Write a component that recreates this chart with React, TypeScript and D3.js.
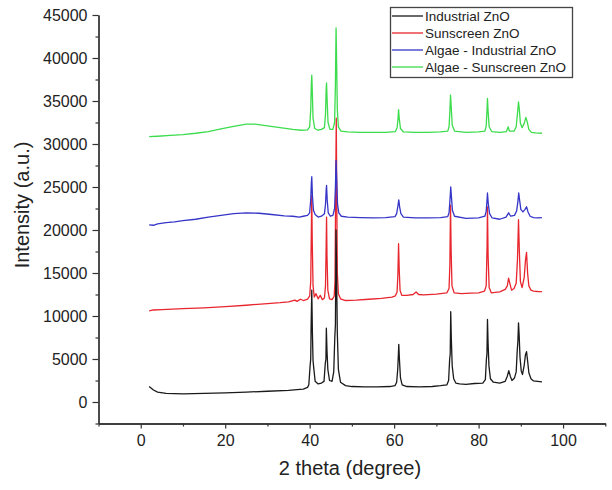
import { useEffect, useRef } from 'react';
import * as d3 from 'd3';

// [2 theta, intensity]
const industrial: [number, number][] = [
  [2, 1800], [3, 1400], [4, 1150], [6, 1000], [10, 950], [15, 1000], [20, 1050], [25, 1150], [30, 1250],
  [35, 1350], [37, 1450], [38.5, 1500], [39.5, 1700],
  [39.8, 2000], [40.1, 4200], [40.25, 5000], [40.35, 9000], [40.5, 13000], [40.65, 8000], [40.8, 4800], [41.0, 3800], [41.3, 2400], [42, 2100], [42.8, 2200],
  [43.4, 2400], [43.7, 4500], [43.85, 5000], [43.95, 8600], [44.1, 6000], [44.3, 3800], [44.7, 2500], [45.3, 2400],
  [45.7, 3500], [45.95, 7500], [46.1, 9000], [46.25, 20000], [46.4, 14000], [46.55, 8000], [46.8, 3800], [47.3, 2300], [48.5, 1900],
  [50, 1800], [53, 1750], [56, 1750], [59, 1800], [60.2, 1900],
  [60.6, 2300], [60.85, 3800], [61.0, 5500], [61.1, 6700], [61.25, 5000], [61.5, 2800], [61.9, 2000], [63, 1800],
  [66, 1750], [69, 1800], [71, 1900], [72.5, 2000],
  [72.9, 2500], [73.15, 5000], [73.28, 5600], [73.4, 10500], [73.55, 7200], [73.75, 4200], [74.1, 2700], [74.6, 2200], [75.5, 2100],
  [77, 2050], [79, 2150], [81, 2200],
  [81.6, 2600], [81.85, 5000], [81.98, 5600], [82.1, 9600], [82.25, 6800], [82.45, 4200], [82.8, 2700], [83.5, 2300], [85, 2200], [86.3, 2400],
  [86.8, 3000], [87.15, 3650], [87.5, 3000], [87.9, 2500], [88.5, 2800],
  [88.9, 3500], [89.15, 6000], [89.3, 7000], [89.45, 9200], [89.6, 7800], [89.8, 5200], [90.1, 3600], [90.4, 3200], [90.8, 4300], [91.1, 5500], [91.35, 5850], [91.6, 4800], [91.9, 3400], [92.4, 2700],
  [93, 2450], [94, 2400], [95, 2350],
];

const sunscreen: [number, number][] = [
  [2, 10600], [3, 10700], [5, 10750], [10, 10850], [15, 10950], [20, 11080], [25, 11250], [30, 11450], [33, 11550],
  [35, 11650], [36.5, 11850], [37, 11700], [37.8, 11950], [38.5, 11800], [39.5, 11950],
  [40.0, 12300], [40.25, 14000], [40.4, 20000], [40.5, 24000], [40.6, 19000], [40.8, 13500], [41.1, 12200], [41.5, 12600], [42, 12000], [42.5, 12400], [43, 11900],
  [43.5, 12100], [43.75, 13500], [43.9, 18000], [44.0, 21500], [44.1, 17000], [44.3, 13000], [44.7, 12000], [45.3, 11900], [45.8, 12300],
  [46.0, 14000], [46.15, 24000], [46.3, 33000], [46.4, 25000], [46.55, 15000], [46.8, 12600], [47.3, 12000], [48.5, 11800],
  [51, 11850], [54, 11950], [57, 12050], [59.5, 12200], [60.3, 12350],
  [60.7, 12800], [60.9, 15000], [61.05, 18400], [61.2, 15500], [61.4, 13000], [61.8, 12400], [63, 12400], [64.5, 12500], [65.2, 12800], [65.8, 12500],
  [67, 12450], [70, 12550], [72.5, 12700],
  [73.0, 13200], [73.2, 16000], [73.35, 22900], [73.5, 17500], [73.7, 13500], [74.2, 12700], [76, 12600], [78, 12650], [80, 12700], [81.4, 12900],
  [81.8, 13500], [82.0, 18000], [82.1, 22700], [82.25, 17000], [82.5, 13300], [83, 12700], [85, 12800], [86.3, 13100],
  [86.8, 13500], [87.1, 14400], [87.4, 13800], [87.8, 13000], [88.4, 13200],
  [88.9, 13800], [89.2, 16500], [89.45, 21200], [89.65, 17500], [89.9, 14000], [90.3, 13300], [90.8, 14500], [91.1, 16500], [91.35, 17400], [91.6, 15000], [91.9, 13500],
  [92.4, 13000], [93, 12900], [94, 12850], [95, 12830],
];

const algaeIndustrial: [number, number][] = [
  [2, 20600], [3, 20550], [4, 20700], [6, 20850], [8, 20950], [10, 21100], [13, 21250], [16, 21500], [19, 21700], [22, 21900],
  [25, 22000], [28, 21950], [31, 21800], [34, 21650], [36, 21600], [37.5, 21500], [38.5, 21600], [39.5, 21700],
  [40.0, 22000], [40.25, 23500], [40.4, 25500], [40.5, 26200], [40.65, 24000], [40.9, 22300], [41.3, 21800], [42, 21500], [42.8, 21600],
  [43.5, 21900], [43.75, 23000], [43.9, 24600], [44.0, 25200], [44.15, 23500], [44.4, 22000], [44.9, 21600], [45.5, 21700],
  [45.9, 22500], [46.1, 25000], [46.25, 28100], [46.4, 26000], [46.6, 23000], [46.9, 22000], [47.5, 21600], [49, 21500],
  [52, 21450], [55, 21400], [58, 21450], [60.2, 21550],
  [60.6, 21900], [60.9, 22800], [61.1, 23500], [61.3, 22700], [61.6, 21900], [62.2, 21500], [65, 21400], [68, 21400], [71, 21450], [72.7, 21550],
  [73.0, 22000], [73.2, 23300], [73.4, 25000], [73.55, 24000], [73.8, 22300], [74.3, 21600], [77, 21350], [80, 21400], [81.5, 21600],
  [81.8, 22200], [82.0, 23500], [82.1, 24300], [82.3, 23000], [82.6, 21900], [83.2, 21400], [85, 21250], [86.5, 21500], [87.1, 22000], [87.6, 21600], [88.5, 21700],
  [89.0, 22200], [89.3, 23300], [89.5, 24300], [89.7, 23500], [90.0, 22400], [90.5, 22100], [91.0, 22400], [91.35, 22700], [91.7, 22100], [92.2, 21600],
  [93, 21450], [94, 21400], [95, 21450],
];

const algaeSunscreen: [number, number][] = [
  [2, 30850], [4, 30900], [7, 31000], [10, 31100], [13, 31250], [16, 31450], [19, 31750], [22, 32050], [25, 32300], [27, 32300],
  [30, 32100], [33, 31900], [36, 31700], [38, 31600], [39.5, 31650],
  [40.0, 32000], [40.25, 34000], [40.4, 37000], [40.5, 38000], [40.6, 36500], [40.8, 33000], [41.2, 31800], [42, 31600], [42.8, 31700],
  [43.5, 31900], [43.75, 33500], [43.9, 36300], [44.0, 37100], [44.1, 35500], [44.35, 32500], [44.8, 31700], [45.5, 31700],
  [45.9, 32500], [46.1, 37000], [46.25, 43500], [46.4, 39000], [46.55, 34000], [46.8, 32000], [47.4, 31500], [49, 31400],
  [52, 31350], [55, 31350], [58, 31350], [60.3, 31450],
  [60.7, 31900], [60.9, 32800], [61.05, 34000], [61.2, 33000], [61.5, 31800], [62.2, 31400], [65, 31350], [68, 31350], [71, 31400], [72.7, 31500],
  [73.0, 32000], [73.2, 33800], [73.35, 35700], [73.5, 34500], [73.75, 32200], [74.3, 31500], [77, 31350], [80, 31400], [81.5, 31500],
  [81.8, 32100], [82.0, 34000], [82.1, 35300], [82.25, 33800], [82.5, 32000], [83.1, 31450], [85, 31350], [86.6, 31450], [87.0, 32000], [87.3, 31500], [88.4, 31500],
  [88.9, 32000], [89.2, 33500], [89.45, 34900], [89.65, 34000], [89.9, 32400], [90.3, 31900], [90.8, 32400], [91.2, 33100], [91.5, 32600], [91.9, 31700],
  [92.5, 31350], [93.5, 31300], [95, 31250],
];

const seriesNames = ['Industrial ZnO', 'Sunscreen ZnO', 'Algae - Industrial ZnO', 'Algae - Sunscreen ZnO'];
const seriesColors = ['#1a1a1a', '#e8262e', '#3535c8', '#3cdc4c'];
const xMajor = [0, 20, 40, 60, 80, 100];
const xMinor = [-10, 10, 30, 50, 70, 90, 110];
const yMajor = [0, 5000, 10000, 15000, 20000, 25000, 30000, 35000, 40000, 45000];
const yMinor = [-2500, 2500, 7500, 12500, 17500, 22500, 27500, 32500, 37500, 42500];

const FONT = '"Liberation Sans", Arial, sans-serif';

function App() {
  const ref = useRef<HTMLDivElement>(null);

  useEffect(() => {
    const root = d3.select(ref.current);
    root.selectAll('*').remove();
    const svg = root.append('svg')
      .attr('width', 612).attr('height', 490)
      .style('position', 'absolute').style('left', 0).style('top', 0)
      .style('background', '#fff');

    const x = d3.scaleLinear().domain([-10, 110]).range([98.5, 605.3]);
    const y = d3.scaleLinear().domain([-2500, 45000]).range([423.5, 15]);

    const axisColor = '#333';

    // x axis
    const gx = svg.append('g').attr('transform', `translate(0,${y(-2500)})`);
    gx.call(d3.axisBottom(x).tickValues(xMajor).tickSize(5).tickSizeOuter(0).tickPadding(6));
    gx.append('g').call(d3.axisBottom(x).tickValues(xMinor).tickSize(3).tickFormat(() => '').tickSizeOuter(0));
    gx.selectAll('path.domain').attr('stroke', axisColor).attr('stroke-width', 1.3);
    gx.selectAll('line').attr('stroke', axisColor).attr('stroke-width', 1.2);
    gx.selectAll('text').attr('font-family', FONT).attr('font-size', 16).attr('fill', '#222');

    // y axis
    const gy = svg.append('g').attr('transform', `translate(${x(-10)},0)`);
    gy.call(d3.axisLeft(y).tickValues(yMajor).tickSize(6).tickSizeOuter(0).tickPadding(5).tickFormat(d3.format('d')));
    gy.append('g').call(d3.axisLeft(y).tickValues(yMinor).tickSize(3).tickFormat(() => '').tickSizeOuter(0));
    gy.selectAll('path.domain').attr('stroke', axisColor).attr('stroke-width', 1.3);
    gy.selectAll('line').attr('stroke', axisColor).attr('stroke-width', 1.2);
    gy.selectAll('text').attr('font-family', FONT).attr('font-size', 16).attr('fill', '#222');

    // axis titles
    svg.append('text')
      .attr('x', 350).attr('y', 475)
      .attr('text-anchor', 'middle')
      .attr('font-family', FONT).attr('font-size', 20).attr('fill', '#222')
      .text('2 theta (degree)');
    svg.append('text')
      .attr('transform', `translate(29,205) rotate(-90)`)
      .attr('text-anchor', 'middle')
      .attr('font-family', FONT).attr('font-size', 20).attr('fill', '#222')
      .text('Intensity (a.u.)');

    const line = d3.line<[number, number]>()
      .x(d => x(d[0]))
      .y(d => y(d[1]));

    // red underneath, the rest on top
    const drawOrder = [1, 0, 2, 3];
    const all = [industrial, sunscreen, algaeIndustrial, algaeSunscreen];
    drawOrder.forEach(i => {
      svg.append('path')
        .datum(all[i])
        .attr('fill', 'none')
        .attr('stroke', seriesColors[i])
        .attr('stroke-width', 1.3)
        .attr('stroke-linejoin', 'round')
        .attr('d', line);
    });

    // legend
    const lg = svg.append('g');
    lg.append('rect')
      .attr('x', 390.5).attr('y', 7.5).attr('width', 182).attr('height', 70)
      .attr('fill', '#fff').attr('stroke', '#444').attr('stroke-width', 1.3);
    seriesNames.forEach((name, i) => {
      const cy = 16 + i * 17;
      lg.append('line')
        .attr('x1', 392).attr('x2', 423).attr('y1', cy).attr('y2', cy)
        .attr('stroke', seriesColors[i]).attr('stroke-width', 1.3);
      lg.append('text')
        .attr('x', 425).attr('y', cy + 5)
        .attr('font-family', FONT).attr('font-size', 13.5).attr('fill', '#222')
        .text(name);
    });
  }, []);

  return <div ref={ref}></div>;
}

export default App;
